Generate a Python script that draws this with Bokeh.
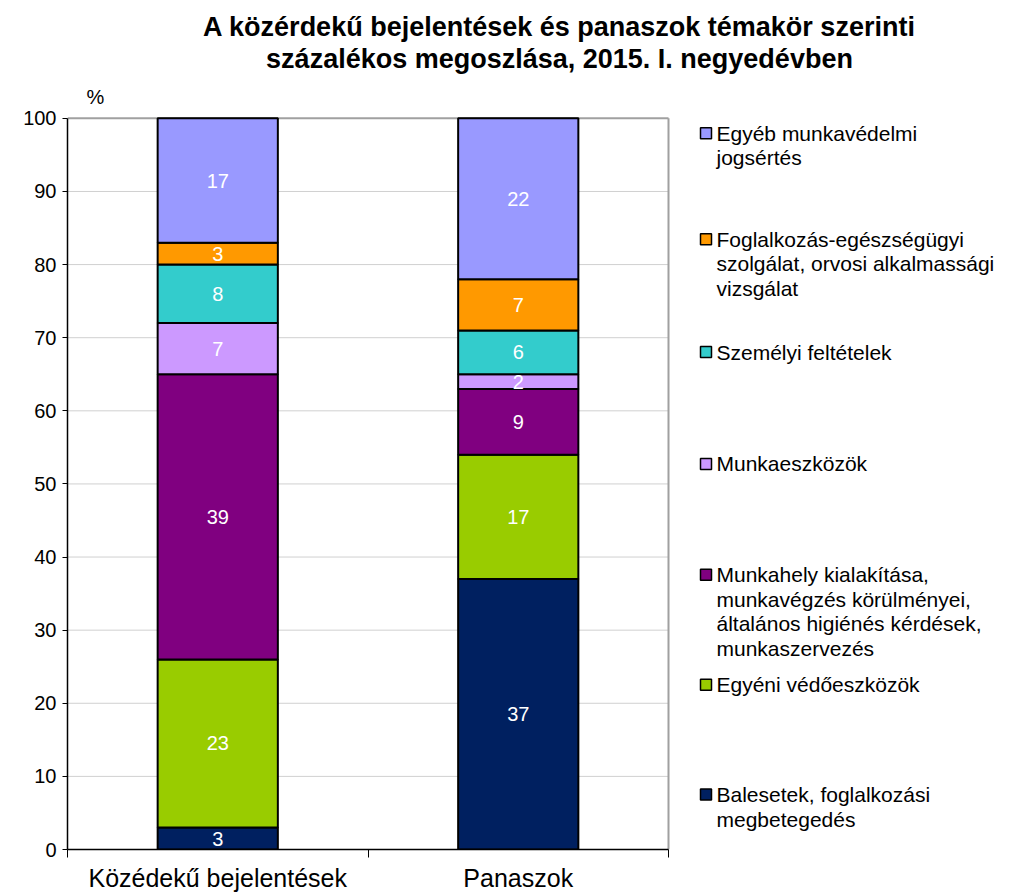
import numpy as np
from bokeh.plotting import figure
from bokeh.models import Range1d, FixedTicker, ColumnDataSource
from bokeh.embed import file_html
from bokeh.resources import INLINE
from bokeh.core.properties import value

# ---------------- data ----------------
categories = ["Közédekű bejelentések", "Panaszok"]
balesetek = [3, 37]
egyeni = [23, 17]
munkahely = [39, 9]
munkaeszkozok = [7, 2]
szemelyi = [8, 6]
foglalkozas = [3, 7]
egyeb = [17, 22]

series_keys = ["balesetek", "egyeni", "munkahely", "munkaeszkozok", "szemelyi", "foglalkozas", "egyeb"]
series_vals = [balesetek, egyeni, munkahely, munkaeszkozok, szemelyi, foglalkozas, egyeb]
series_labels = [
    ["Balesetek, foglalkozási", "megbetegedés"],
    ["Egyéni védőeszközök"],
    ["Munkahely kialakítása,", "munkavégzés körülményei,", "általános higiénés kérdések,", "munkaszervezés"],
    ["Munkaeszközök"],
    ["Személyi feltételek"],
    ["Foglalkozás-egészségügyi", "szolgálat, orvosi alkalmassági", "vizsgálat"],
    ["Egyéb munkavédelmi", "jogsértés"],
]
colors = ["#002060", "#99CC00", "#800080", "#CC99FF", "#33CCCC", "#FF9900", "#9999FF"]
title_lines = ["A közérdekű bejelentések és panaszok témakör szerinti",
               "százalékos megoszlása, 2015. I. negyedévben"]
unit_label = "%"
y_ticks = list(range(0, 101, 10))
Y_MAX = 100
N_CAT = len(categories)

FONT = "Liberation Sans"

# ---------------- layout (page px) ----------------
W, H = 1015, 894
FR_L, FR_T, FR_B = 67, 118, 850        # plot area: left, top (value 100), bottom (value 0)
PX_X = 300.5                            # px per category
PX_Y = (FR_B - FR_T) / Y_MAX            # px per percent

def dx(px):
    return (px - FR_L) / PX_X
def dy(py):
    return (FR_B - py) / PX_Y

# The frame spans the whole canvas right/up, so titles and legend can live in it.
p = figure(width=W, height=H, title=None,
           x_range=Range1d(0, dx(W)), y_range=Range1d(0, dy(0)),
           output_backend="svg", toolbar_location=None,
           min_border_left=FR_L, min_border_right=0, min_border_top=0,
           min_border_bottom=H - FR_B)
p.background_fill_color = "white"
p.border_fill_color = "white"
p.outline_line_color = None
p.xgrid.visible = False
p.ygrid.visible = False

# grid lines and plot-area border (limited to the chart area)
grid_y = [t for t in y_ticks if 0 < t < Y_MAX]
p.segment(x0=[0] * len(grid_y), x1=[N_CAT] * len(grid_y), y0=grid_y, y1=grid_y,
          line_color="#d0d0d0", line_width=1)
p.segment(x0=[0, N_CAT], x1=[N_CAT, N_CAT], y0=[Y_MAX, 0], y1=[Y_MAX, Y_MAX],
          line_color="#a0a0a0", line_width=2)

# stacked bars
x_pos = [i + 0.5 for i in range(N_CAT)]
src = ColumnDataSource(dict(x=x_pos, **{k: v for k, v in zip(series_keys, series_vals)}))
p.vbar_stack(series_keys, x="x", width=0.4, fill_color=colors, line_color="black",
             line_width=2, source=src)

# data labels
cum = np.zeros(N_CAT)
for vals in series_vals:
    v = np.array(vals, dtype=float)
    mids = cum + v / 2
    p.text(x=x_pos, y=list(mids), text=[str(int(a)) for a in v], text_color="white",
           text_align="center", text_baseline="middle", text_font=value(FONT),
           text_font_size="20px")
    cum = cum + v

# axes
p.yaxis.bounds = (0, Y_MAX)
p.yaxis.ticker = FixedTicker(ticks=y_ticks)
p.yaxis.axis_line_color = "black"
p.yaxis.axis_line_width = 1.5
p.yaxis.major_tick_line_color = "black"
p.yaxis.major_tick_out = 5
p.yaxis.major_tick_in = 0
p.yaxis.minor_tick_line_color = None
p.yaxis.major_label_text_font = FONT
p.yaxis.major_label_text_font_size = "20px"
p.yaxis.major_label_text_color = "black"
p.yaxis.major_label_standoff = 6

p.xaxis.bounds = (0, N_CAT)
p.xaxis.ticker = FixedTicker(ticks=x_pos, minor_ticks=list(range(N_CAT + 1)))
p.xaxis.major_label_overrides = {x: c for x, c in zip(x_pos, categories)}
p.xaxis.axis_line_color = "black"
p.xaxis.axis_line_width = 1.5
p.xaxis.major_tick_out = 0
p.xaxis.major_tick_in = 0
p.xaxis.minor_tick_out = 8
p.xaxis.minor_tick_in = 0
p.xaxis.minor_tick_line_color = "black"
p.xaxis.minor_tick_line_width = 1
p.xaxis.major_label_text_font = FONT
p.xaxis.major_label_text_font_size = "25px"
p.xaxis.major_label_text_color = "black"
p.xaxis.major_label_standoff = 6

# title
p.text(x=[dx(559)] * 2, y=[dy(27), dy(59)], text=title_lines, text_align="center",
       text_baseline="middle", text_font=value(FONT), text_font_size="27px",
       text_font_style="bold", text_color="black")

# unit label
p.text(x=[dx(95)], y=[dy(97)], text=[unit_label], text_align="center", text_baseline="middle",
       text_font=value(FONT), text_font_size="20px", text_color="black")

# legend (per series, bottom..top order); first-line centre in page px
legend_first_y = [795, 685, 575, 464, 352, 239, 133]
LINE_H = 24.5
p.rect(x=[dx(705.5)] * len(colors), y=[dy(v) for v in legend_first_y], width=11, height=11,
       width_units="screen", height_units="screen", fill_color=colors, line_color="black",
       line_width=1.5)
lx, ly, lt = [], [], []
for lines, y0 in zip(series_labels, legend_first_y):
    for i, ln in enumerate(lines):
        lx.append(dx(716))
        ly.append(dy(y0 + i * LINE_H))
        lt.append(ln)
p.text(x=lx, y=ly, text=lt, text_align="left", text_baseline="middle",
       text_font=value(FONT), text_font_size="21px", text_color="black")

open("out.html", "w").write(file_html(p, INLINE))
